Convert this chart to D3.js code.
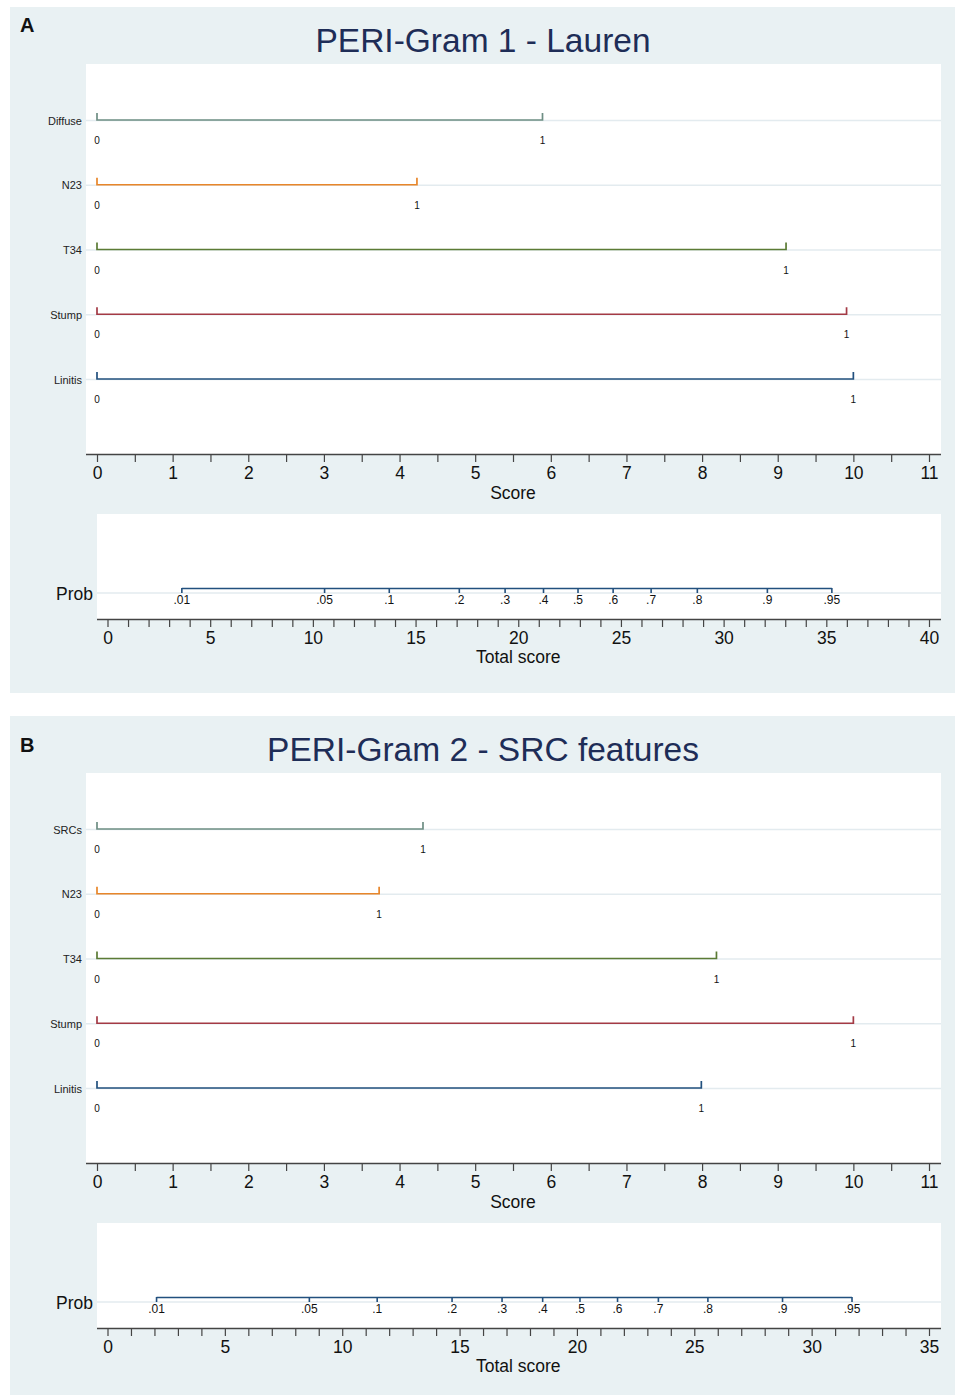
<!DOCTYPE html>
<html>
<head>
<meta charset="utf-8">
<script src="https://cdn.jsdelivr.net/npm/d3@7"></script>
<style>
  body { margin: 0; background: #fff; }
  svg { display: block; font-family: "Liberation Sans", Arial, Helvetica, sans-serif; }
</style>
</head>
<body>
<svg id="chart" width="955" height="1395"></svg>
<script>
// panel meta
const panelLetters = ["A", "B"];
const panelTitles = ["PERI-Gram 1 - Lauren", "PERI-Gram 2 - SRC features"];

// predictors per panel and score at value 1 (value 0 is always 0)
const varsA = ["Diffuse", "N23", "T34", "Stump", "Linitis"];
const pointsA = [5.89, 4.23, 9.11, 9.91, 10.0];
const varsB = ["SRCs", "N23", "T34", "Stump", "Linitis"];
const pointsB = [4.31, 3.73, 8.19, 10.0, 7.99];
const levelLabels = ["0", "1"];

// score axis
const scoreMax = 11;

// total score axis
const totalMaxA = 40;
const totalMaxB = 35;

// probability scale: label and position on total score
const probLabels = [".01", ".05", ".1", ".2", ".3", ".4", ".5", ".6", ".7", ".8", ".9", ".95"];
const probPosA = [3.62, 10.57, 13.72, 17.13, 19.36, 21.23, 22.91, 24.62, 26.47, 28.72, 32.13, 35.27];
const probPosB = [2.09, 8.60, 11.49, 14.68, 16.81, 18.54, 20.13, 21.73, 23.47, 25.58, 28.76, 31.72];

const lineColors = ["#6e8e84", "#e8862a", "#5b7b35", "#a33a45", "#22507e"];

const panels = [
  { letter: panelLetters[0], title: panelTitles[0], vars: varsA, points: pointsA, totalMax: totalMaxA, probPos: probPosA, top: 0, bgH: 686, letterY: 32 },
  { letter: panelLetters[1], title: panelTitles[1], vars: varsB, points: pointsB, totalMax: totalMaxB, probPos: probPosB, top: 709, bgH: 690, letterY: 43 }
];

const svg = d3.select("#chart");
const bg = "#e9f1f3";
const grid = "#e3ebef";
const axisCol = "#444";

panels.forEach(function(p) {
  const g = svg.append("g").attr("transform", `translate(0,${p.top})`);

  // background and plot regions
  g.append("rect").attr("x", 10).attr("y", 7).attr("width", 945).attr("height", p.bgH).attr("fill", bg);
  g.append("rect").attr("x", 86).attr("y", 64).attr("width", 855).attr("height", 390).attr("fill", "#fff");
  g.append("rect").attr("x", 97).attr("y", 514).attr("width", 844).attr("height", 105).attr("fill", "#fff");

  g.append("text").attr("x", 20).attr("y", p.letterY)
    .attr("font-size", 20).attr("font-weight", "bold").attr("fill", "#111")
    .text(p.letter);

  g.append("text").attr("x", 483).attr("y", 52)
    .attr("text-anchor", "middle").attr("font-size", 33.5).attr("fill", "#1e2d57")
    .text(p.title);

  // scales
  const x = d3.scaleLinear().domain([0, scoreMax]).range([97, 929]);
  const y = d3.scalePoint().domain(p.vars).range([120, 379]);
  const xt = d3.scaleLinear().domain([0, p.totalMax]).range([107.5, 929]);

  // gridlines
  g.selectAll(".grid").data(p.vars).join("line")
    .attr("x1", 86).attr("x2", 941)
    .attr("y1", d => y(d) + 0.5).attr("y2", d => y(d) + 0.5)
    .attr("stroke", grid).attr("stroke-width", 1.5);

  // row labels
  g.selectAll(".rowlab").data(p.vars).join("text")
    .attr("x", 82).attr("y", d => y(d) + 4.5)
    .attr("text-anchor", "end").attr("font-size", 11).attr("fill", "#222")
    .text(d => d);

  // predictor lines
  p.vars.forEach(function(v, i) {
    const yy = y(v);
    const x1 = x(p.points[i]);
    const col = lineColors[i];
    g.append("path")
      .attr("d", `M${x(0)},${yy - 7}V${yy}H${x1}V${yy - 7}`)
      .attr("fill", "none").attr("stroke", col).attr("stroke-width", 1.7);
    [0, p.points[i]].forEach(function(s, k) {
      g.append("text").attr("x", x(s)).attr("y", yy + 24)
        .attr("text-anchor", "middle").attr("font-size", 10).attr("fill", "#111")
        .text(levelLabels[k]);
    });
  });

  // score axis
  const scoreAxis = d3.axisBottom(x)
    .tickValues(d3.range(0, scoreMax + 0.01, 0.5))
    .tickFormat(d => Number.isInteger(d) ? d : "")
    .tickSize(8).tickPadding(5);
  const sa = g.append("g").attr("transform", "translate(0,454)").call(scoreAxis);
  sa.select(".domain").remove();
  sa.selectAll("line").attr("stroke", axisCol).attr("stroke-width", 1.2);
  sa.selectAll("text").attr("font-size", 17.5).attr("fill", "#111")
    .attr("font-family", "'Liberation Sans', Arial, sans-serif");
  g.append("line").attr("x1", 86).attr("x2", 941).attr("y1", 454.5).attr("y2", 454.5)
    .attr("stroke", axisCol).attr("stroke-width", 1.4);
  g.append("text").attr("x", (x(0) + x(scoreMax)) / 2).attr("y", 499)
    .attr("text-anchor", "middle").attr("font-size", 17.5).attr("fill", "#111")
    .text("Score");

  // prob row
  g.append("line").attr("x1", 97).attr("x2", 941).attr("y1", 593).attr("y2", 593)
    .attr("stroke", grid).attr("stroke-width", 1.5);
  g.append("text").attr("x", 93).attr("y", 600)
    .attr("text-anchor", "end").attr("font-size", 17.5).attr("fill", "#111")
    .text("Prob");
  const px0 = xt(p.probPos[0]);
  const px1 = xt(p.probPos[p.probPos.length - 1]);
  g.append("line").attr("x1", px0).attr("x2", px1).attr("y1", 588.5).attr("y2", 588.5)
    .attr("stroke", lineColors[4]).attr("stroke-width", 1.7);
  g.selectAll(".ptick").data(p.probPos).join("line")
    .attr("x1", d => xt(d)).attr("x2", d => xt(d))
    .attr("y1", 588).attr("y2", 593)
    .attr("stroke", lineColors[4]).attr("stroke-width", 1.6);
  g.selectAll(".plab").data(p.probPos).join("text")
    .attr("x", d => xt(d)).attr("y", 604)
    .attr("text-anchor", "middle").attr("font-size", 12).attr("fill", "#111")
    .text((d, i) => probLabels[i]);

  // total score axis
  const totalAxis = d3.axisBottom(xt)
    .tickValues(d3.range(0, p.totalMax + 0.01, 1))
    .tickFormat(d => d % 5 === 0 ? d : "")
    .tickSize(8).tickPadding(5);
  const ta = g.append("g").attr("transform", "translate(0,619)").call(totalAxis);
  ta.select(".domain").remove();
  ta.selectAll("line").attr("stroke", axisCol).attr("stroke-width", 1.2);
  ta.selectAll("text").attr("font-size", 17.5).attr("fill", "#111")
    .attr("font-family", "'Liberation Sans', Arial, sans-serif");
  g.append("line").attr("x1", 97).attr("x2", 941).attr("y1", 619.5).attr("y2", 619.5)
    .attr("stroke", axisCol).attr("stroke-width", 1.4);
  g.append("text").attr("x", (xt(0) + xt(p.totalMax)) / 2).attr("y", 663)
    .attr("text-anchor", "middle").attr("font-size", 17.5).attr("fill", "#111")
    .text("Total score");
});
</script>
</body>
</html>
